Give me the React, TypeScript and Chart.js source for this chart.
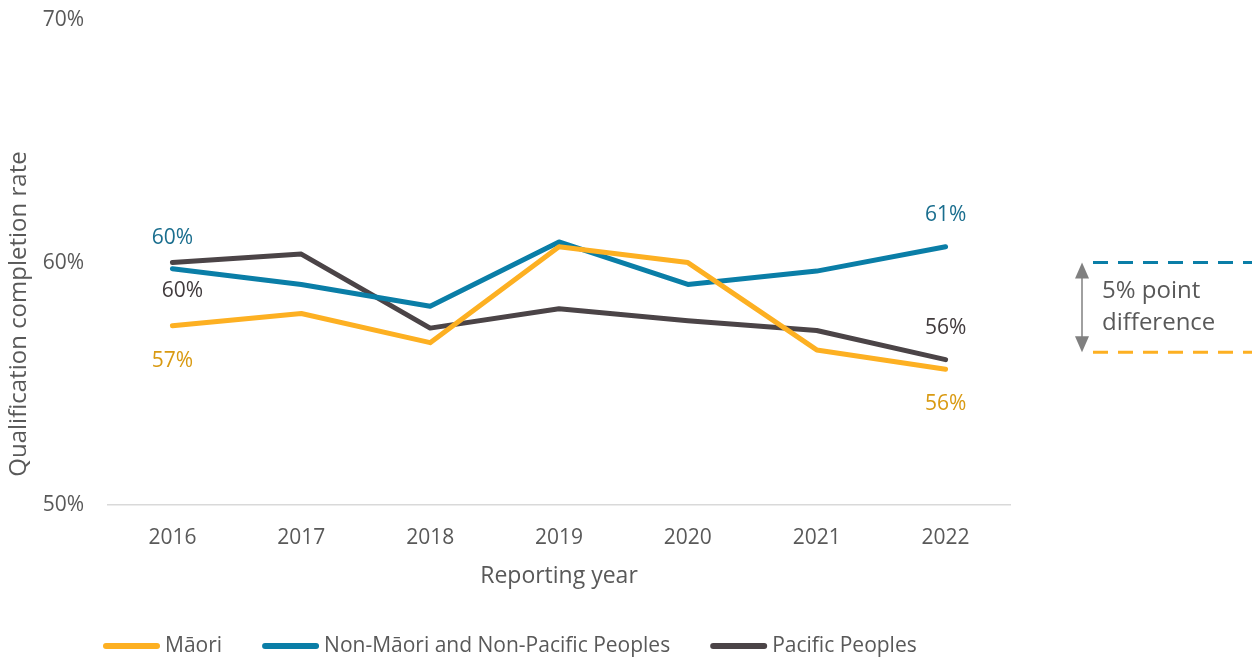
import React, { useEffect, useRef } from "react";
import { Chart, registerables } from "chart.js";

Chart.register(...registerables);

const YEARS = ["2016", "2017", "2018", "2019", "2020", "2021", "2022"];
const MAORI = [57.4, 57.9, 56.7, 60.65, 60.0, 56.4, 55.6];
const NON_MAORI_PACIFIC = [59.75, 59.1, 58.2, 60.85, 59.1, 59.65, 60.65];
const PACIFIC = [60.0, 60.35, 57.3, 58.1, 57.6, 57.2, 56.0];
const SERIES_NAMES = ["Māori", "Non-Māori and Non-Pacific Peoples", "Pacific Peoples"];
const LINE_COLORS = ["#FDB022", "#0A7EA7", "#4B4447"];
const LABEL_COLORS = ["#D99A12", "#1A6E8E", "#413B3D"];
const Y_TICKS = [50, 60, 70];
const Y_TITLE = "Qualification completion rate";
const GAP_TOP = 60;
const GAP_BOTTOM = 56.3;
const GAP_TEXT = ["5% point", "difference"];

const FONT = "'Open Sans', 'Noto Sans', sans-serif";

// label offsets (px) for first/last point per series: [dx, dy]
const LABEL_OFFSETS: Record<number, { first: [number, number]; last: [number, number] }> = {
  0: { first: [0, 35], last: [0, 35] },
  1: { first: [0, -31], last: [0, -32] },
  2: { first: [10, 28], last: [0, -32] },
};

const overlayPlugin = {
  id: "overlay",
  afterDatasetsDraw(chart: any) {
    const ctx = chart.ctx;
    const y = chart.scales.y;
    ctx.save();
    // y title
    ctx.save();
    ctx.translate(19, 314);
    ctx.rotate(-Math.PI / 2);
    ctx.font = `24px ${FONT}`;
    ctx.fillStyle = "#595959";
    ctx.textAlign = "center";
    ctx.textBaseline = "middle";
    ctx.fillText(Y_TITLE, 0, 0);
    ctx.restore();

    // data labels
    ctx.font = `21px ${FONT}`;
    ctx.textAlign = "center";
    ctx.textBaseline = "middle";
    chart.data.datasets.forEach((ds: any, i: number) => {
      const meta = chart.getDatasetMeta(i);
      const n = ds.data.length;
      [0, n - 1].forEach((idx, k) => {
        const pt = meta.data[idx];
        const off = k === 0 ? LABEL_OFFSETS[i].first : LABEL_OFFSETS[i].last;
        ctx.fillStyle = LABEL_COLORS[i];
        ctx.fillText(Math.round(ds.data[idx]) + "%", pt.x + off[0], pt.y + off[1]);
      });
    });

    // gap annotation
    const yTop = y.getPixelForValue(GAP_TOP);
    const yBot = y.getPixelForValue(GAP_BOTTOM);
    const xStart = chart.chartArea.right + 83;
    const xEnd = chart.width;
    ctx.lineWidth = 3;
    ctx.setLineDash([15, 10]);
    ctx.strokeStyle = LINE_COLORS[1];
    ctx.beginPath();
    ctx.moveTo(xStart, yTop);
    ctx.lineTo(xEnd, yTop);
    ctx.stroke();
    ctx.strokeStyle = LINE_COLORS[0];
    ctx.beginPath();
    ctx.moveTo(xStart, yBot);
    ctx.lineTo(xEnd, yBot);
    ctx.stroke();
    ctx.setLineDash([]);
    // arrow
    const ax = chart.chartArea.right + 72;
    ctx.strokeStyle = "#808080";
    ctx.fillStyle = "#808080";
    ctx.lineWidth = 1.5;
    ctx.beginPath();
    ctx.moveTo(ax, yTop + 10);
    ctx.lineTo(ax, yBot - 10);
    ctx.stroke();
    ctx.beginPath();
    ctx.moveTo(ax, yTop);
    ctx.lineTo(ax - 7, yTop + 16);
    ctx.lineTo(ax + 7, yTop + 16);
    ctx.closePath();
    ctx.fill();
    ctx.beginPath();
    ctx.moveTo(ax, yBot);
    ctx.lineTo(ax - 7, yBot - 16);
    ctx.lineTo(ax + 7, yBot - 16);
    ctx.closePath();
    ctx.fill();
    ctx.fillStyle = "#595959";
    ctx.textAlign = "left";
    ctx.font = `24px ${FONT}`;
    const mid = (yTop + yBot) / 2;
    ctx.fillText(GAP_TEXT[0], ax + 20, mid - 16);
    ctx.fillText(GAP_TEXT[1], ax + 20, mid + 16);

    // legend
    ctx.font = `21px ${FONT}`;
    ctx.textBaseline = "middle";
    let lx = 103;
    const ly = chart.height - 16;
    SERIES_NAMES.forEach((name, i) => {
      ctx.strokeStyle = LINE_COLORS[i];
      ctx.lineWidth = 6;
      ctx.lineCap = "round";
      ctx.beginPath();
      ctx.moveTo(lx + 3, ly);
      ctx.lineTo(lx + 54, ly);
      ctx.stroke();
      ctx.fillStyle = "#595959";
      ctx.fillText(name, lx + 62, ly);
      lx += 62 + ctx.measureText(name).width + 40;
    });
    ctx.restore();
  },
};

export default function App() {
  const ref = useRef<HTMLCanvasElement>(null);
  useEffect(() => {
    document.body.style.margin = "0";
    const chart = new Chart(ref.current!, {
      type: "line",
      data: {
        labels: YEARS,
        datasets: [MAORI, NON_MAORI_PACIFIC, PACIFIC].map((d, i) => ({
          label: SERIES_NAMES[i],
          data: d,
          borderColor: LINE_COLORS[i],
          backgroundColor: LINE_COLORS[i],
          borderWidth: 5,
          borderCapStyle: "round" as const,
          borderJoinStyle: "round" as const,
          pointRadius: 0,
          tension: 0,
        })),
      },
      options: {
        animation: false,
        responsive: true,
        maintainAspectRatio: false,
        layout: { padding: { top: 20, right: 242, bottom: 72, left: 0 } },
        plugins: { legend: { display: false }, tooltip: { enabled: false } },
        scales: {
          x: {
            offset: true,
            grid: { display: false, drawTicks: false },
            border: { display: true, color: "#D9D9D9", width: 1.5 },
            ticks: { color: "#595959", font: { family: FONT, size: 21 }, padding: 20 },
            title: {
              display: true,
              text: "Reporting year",
              color: "#595959",
              font: { family: FONT, size: 23 },
              padding: { top: -8, bottom: 0 },
            },
          },
          y: {
            min: 50,
            max: 70,
            afterBuildTicks: (s: any) => {
              s.ticks = Y_TICKS.map((v) => ({ value: v }));
            },
            afterFit: (s: any) => {
              s.width = 108;
              s.paddingTop = 0;
              s.paddingBottom = 0;
            },
            grid: { display: false, drawTicks: false },
            border: { display: false },
            ticks: {
              color: "#595959",
              font: { family: FONT, size: 21 },
              padding: 24,
              callback: (v: any) => v + "%",
            },
          },
        },
      },
      plugins: [overlayPlugin],
    });
    return () => chart.destroy();
  }, []);
  return (
    <div style={{ width: 1252, height: 662, position: "relative" }}>
      <canvas ref={ref} />
    </div>
  );
}
